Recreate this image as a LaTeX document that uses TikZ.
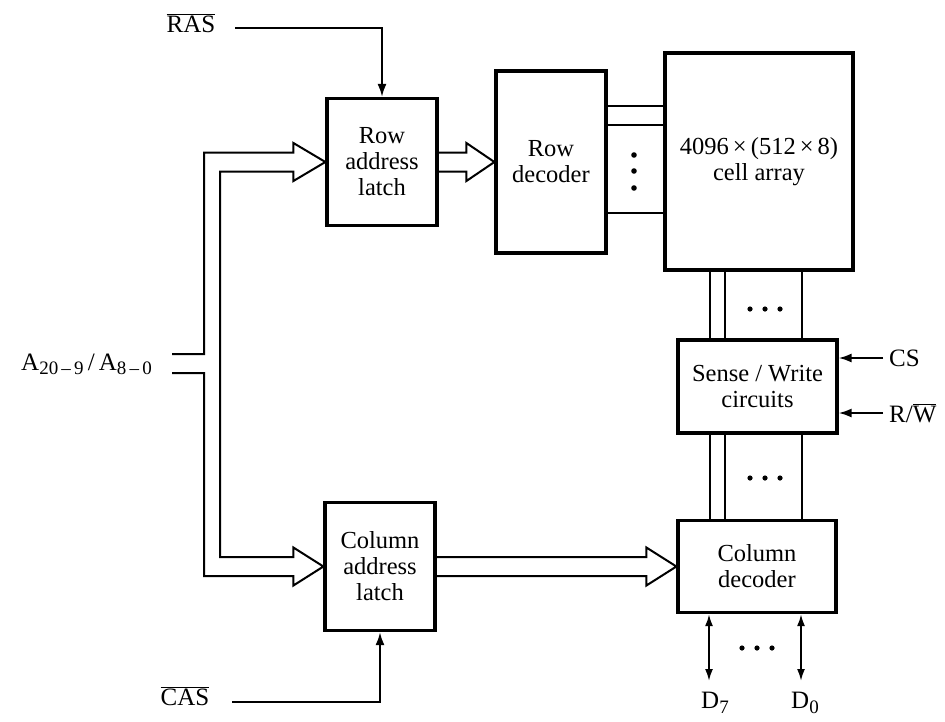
\documentclass[tikz,border=0pt]{standalone}
\usepackage{fontspec}
\setmainfont{Liberation Serif}
\usetikzlibrary{calc,arrows.meta}
\newcommand\lowsub[1]{\raisebox{-0.4ex}{\fontsize{19}{19}\selectfont #1}}
\tikzset{
  box/.style={draw,line width=3.2pt,align=center,inner sep=0pt,font=\fontsize{24.5}{26}\selectfont},
  lbl/.style={inner sep=0pt,font=\fontsize{25}{26}\selectfont},
  wire/.style={line width=2pt},
  sig/.style={line width=2pt,-{Latex[length=13pt,width=9pt]}},
  bidir/.style={line width=2pt,{Latex[length=12pt,width=8pt]}-{Latex[length=12pt,width=8pt]}},
  dotc/.style={fill=black,draw=none}
}
\begin{document}
\begin{tikzpicture}[x=1pt,y=-1pt]
\useasboundingbox (0,0) rectangle (945,721);
% boxes
\node[box,minimum width=110pt,minimum height=127pt] (rl) at (382,162) {Row\\address\\latch};
\node[box,minimum width=110pt,minimum height=182pt] (rd) at (551,162) {Row\\decoder};
\node[box,minimum width=188pt,minimum height=217pt] (ca) at (759,161.5) {4096\,×\,(512\,×\,8)\\cell array};
\node[box,minimum width=159pt,minimum height=93pt] (sw) at (757.5,386.5) {Sense / Write\\circuits};
\node[box,minimum width=158pt,minimum height=92pt] (cd) at (757,566.5) {Column\\decoder};
\node[box,minimum width=110pt,minimum height=128pt] (cl) at (380,566.5) {Column\\address\\latch};
% labels
\node[lbl] (ras) at (191,23) {$\overline{\mbox{RAS}}$};
\node[lbl] (cas) at (185,696) {$\overline{\mbox{CAS}}$};
\node[lbl,anchor=base east] (addr) at (152,370) {A\lowsub{20\,–\,9}\,/\,A\lowsub{8\,–\,0}};
\node[lbl,anchor=west] (cs) at (889,358) {CS};
\node[lbl,anchor=west] (rw) at (889,413) {R/$\overline{\mbox{W}}$};
\node[lbl] (d7) at (715,703) {D\lowsub{7}};
\node[lbl] (d0) at (805,703) {D\lowsub{0}};
% RAS / CAS
\coordinate (rasS) at (235,28);
\coordinate (casS) at (232,702);
\draw[sig] (rasS) -| (rl.north);
\draw[sig] (casS) -| (cl.south);
% address bus
\coordinate (aU) at (172,354);
\coordinate (aL) at (172,373);
\draw[wire,line join=miter] (aU) -- (204,354) -- (204,152.5)
  -- ($(rl.west)+(-32,-9.5)$) -- ($(rl.west)+(-32,-19)$) -- (rl.west)
  -- ($(rl.west)+(-32,19)$) -- ($(rl.west)+(-32,9.5)$) -- (220,171.5)
  -- (220,557) -- ($(cl.west)+(-30,-9.5)$) -- ($(cl.west)+(-30,-19)$) -- (cl.west)
  -- ($(cl.west)+(-30,19)$) -- ($(cl.west)+(-30,9.5)$) -- (204,576)
  -- (204,373) -- (aL);
% row latch -> row decoder
\draw[wire] ($(rl.east)+(0,-9.5)$) -- ($(rd.west)+(-28,-9.5)$) -- ($(rd.west)+(-28,-19)$) -- (rd.west)
  -- ($(rd.west)+(-28,19)$) -- ($(rd.west)+(-28,9.5)$) -- ($(rl.east)+(0,9.5)$);
% column latch -> column decoder
\draw[wire] ($(cl.east)+(0,-9.5)$) -- ($(cd.west)+(-30,-9.5)$) -- ($(cd.west)+(-30,-19)$) -- (cd.west)
  -- ($(cd.west)+(-30,19)$) -- ($(cd.west)+(-30,9.5)$) -- ($(cl.east)+(0,9.5)$);
% row decoder -> cell array lines
\foreach \dy [count=\i] in {37,56,144} {
  \coordinate (h\i) at ($(rd.north east)+(0,\dy)$);
  \draw[wire] (h\i) -- (h\i -| ca.west);
}
\foreach \y in {155,171,188} \fill[dotc] (634,\y) circle (2.8pt);
% cell array -> sense/write -> column decoder lines
\foreach \dx [count=\i] in {47,62,139} {
  \coordinate (v\i) at ($(ca.south west)+(\dx,0)$);
  \draw[wire] (v\i) -- (v\i |- sw.north);
  \coordinate (w\i) at (v\i |- sw.south);
  \draw[wire] (w\i) -- (w\i |- cd.north);
}
\foreach \x in {750,765,780} {
  \fill[dotc] (\x,309) circle (2.6pt);
  \fill[dotc] (\x,478) circle (2.6pt);
}
% CS, R/W
\draw[sig] ($(cs.west)+(-6,0)$) -- (cs.west -| sw.east);
\draw[sig] ($(rw.west)+(-6,0)$) -- (rw.west -| sw.east);
% data lines
\coordinate (d7e) at (709,681);
\coordinate (d0e) at (801,681);
\draw[bidir] (d7e |- cd.south) -- (d7e);
\draw[bidir] (d0e |- cd.south) -- (d0e);
\foreach \x in {742,757,772} \fill[dotc] (\x,648) circle (2.6pt);
\end{tikzpicture}
\end{document}
